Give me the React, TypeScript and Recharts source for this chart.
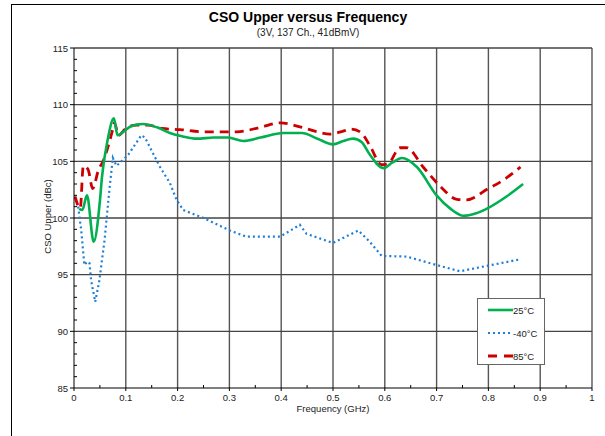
import React from 'react';
import { LineChart, Line, XAxis, YAxis, ReferenceLine } from 'recharts';

const FREQ_25 = [0.01, 0.016, 0.025, 0.038, 0.05, 0.054, 0.065, 0.077, 0.084, 0.095, 0.11, 0.133, 0.16, 0.185, 0.21, 0.237, 0.27, 0.297, 0.327, 0.36, 0.404, 0.44, 0.47, 0.5, 0.52, 0.539, 0.555, 0.571, 0.597, 0.615, 0.633, 0.662, 0.7, 0.726, 0.752, 0.775, 0.8, 0.835, 0.867];
const CSO_25 = [100.8, 100.7, 102.0, 97.9, 101.5, 103.6, 106.9, 108.8, 107.3, 107.6, 108.1, 108.3, 108.0, 107.5, 107.2, 107.0, 107.1, 107.1, 106.8, 107.1, 107.5, 107.5, 107.0, 106.5, 106.8, 107.0, 106.7, 105.6, 104.4, 104.9, 105.3, 104.5, 102.0, 100.85, 100.2, 100.4, 100.9, 101.9, 103.0];

const FREQ_M40 = [0.008, 0.014, 0.02, 0.026, 0.03, 0.033, 0.041, 0.049, 0.059, 0.069, 0.075, 0.082, 0.094, 0.105, 0.13, 0.137, 0.166, 0.185, 0.198, 0.211, 0.25, 0.301, 0.333, 0.398, 0.436, 0.449, 0.5, 0.549, 0.571, 0.594, 0.642, 0.7, 0.745, 0.8, 0.861];
const CSO_M40 = [101.0, 98.9, 95.85, 96.15, 96.0, 94.5, 92.6, 94.5, 98.05, 102.8, 105.3, 104.6, 105.1, 105.6, 107.3, 107.1, 104.5, 103.1, 101.6, 100.7, 100.0, 98.9, 98.35, 98.35, 99.4, 98.6, 97.8, 98.9, 97.9, 96.65, 96.6, 95.85, 95.3, 95.8, 96.35];

const FREQ_85 = [0.002, 0.012, 0.018, 0.027, 0.036, 0.047, 0.057, 0.073, 0.078, 0.086, 0.1, 0.12, 0.143, 0.17, 0.205, 0.25, 0.314, 0.36, 0.398, 0.436, 0.47, 0.494, 0.515, 0.536, 0.555, 0.571, 0.594, 0.607, 0.629, 0.642, 0.674, 0.707, 0.739, 0.758, 0.8, 0.829, 0.862];
const CSO_85 = [101.9, 100.85, 104.6, 104.3, 102.6, 104.2, 105.1, 107.5, 108.4, 107.3, 107.9, 108.2, 108.2, 107.9, 107.8, 107.6, 107.6, 108.0, 108.4, 108.05, 107.6, 107.4, 107.6, 107.85, 107.5, 106.4, 104.7, 104.8, 106.2, 106.2, 104.5, 102.8, 101.65, 101.6, 102.6, 103.35, 104.5];

const X_TICKS = [0, 0.05, 0.1, 0.15, 0.2, 0.25, 0.3, 0.35, 0.4, 0.45, 0.5, 0.55, 0.6, 0.65, 0.7, 0.75, 0.8, 0.85, 0.9, 0.95, 1];
const X_MAJOR = [0, 0.1, 0.2, 0.3, 0.4, 0.5, 0.6, 0.7, 0.8, 0.9, 1];
const Y_TICKS = [85, 86, 87, 88, 89, 90, 91, 92, 93, 94, 95, 96, 97, 98, 99, 100, 101, 102, 103, 104, 105, 106, 107, 108, 109, 110, 111, 112, 113, 114, 115];
const Y_MAJOR = [85, 90, 95, 100, 105, 110, 115];

const SERIES_NAMES = ['25°C', '-40°C', '85°C'];

const zip = (fs: number[], vs: number[]) => fs.map((f, i) => ({ f, v: vs[i] }));
const data25 = zip(FREQ_25, CSO_25);
const dataM40 = zip(FREQ_M40, CSO_M40);
const data85 = zip(FREQ_85, CSO_85);

const FONT = '"Liberation Sans", Arial, sans-serif';
const GREEN = '#00B050';
const BLUE = '#1F7FD6';
const RED = '#CC0000';

const YTick = (props: any) => {
  const { x, y, payload } = props;
  const v = payload.value;
  if (Y_MAJOR.includes(v)) {
    return (
      <g>
        <line x1={x - 4} x2={x} y1={y} y2={y} stroke="#000" strokeWidth={1} />
        <text x={x - 6} y={y} dy={3.5} textAnchor="end" fontSize={9.5} fontFamily={FONT} fill="#222">{v}</text>
      </g>
    );
  }
  return <line x1={x} x2={x + 3} y1={y} y2={y} stroke="#000" strokeWidth={1} />;
};

const XTick = (props: any) => {
  const { x, y, payload } = props;
  const v = payload.value;
  if (X_MAJOR.includes(v)) {
    return (
      <g>
        <line x1={x} x2={x} y1={y} y2={y + 3} stroke="#000" strokeWidth={1} />
        <text x={x} y={y + 13} textAnchor="middle" fontSize={9.5} fontFamily={FONT} fill="#222">{v}</text>
      </g>
    );
  }
  return <line x1={x} x2={x} y1={y - 3} y2={y} stroke="#000" strokeWidth={1} />;
};

export default function App() {
  return (
    <div style={{ position: 'absolute', left: 0, top: 0, width: 605, height: 436, overflow: 'hidden', background: '#fff', fontFamily: FONT }}>
      <div style={{ position: 'absolute', left: 11, top: 4, width: 620, height: 460, borderLeft: '1.5px solid #000', borderTop: '1.5px solid #000' }} />
      <div style={{ position: 'absolute', left: 0, width: 616, top: 9, textAlign: 'center', fontSize: 14, fontWeight: 'bold', color: '#000' }}>CSO Upper versus Frequency</div>
      <div style={{ position: 'absolute', left: 0, width: 616, top: 27, textAlign: 'center', fontSize: 10, color: '#222' }}>(3V, 137 Ch., 41dBmV)</div>
      <LineChart width={605} height={436} margin={{ top: 48, right: 13, bottom: 28, left: 0 }}>
        <XAxis
          type="number"
          dataKey="f"
          domain={[0, 1]}
          ticks={X_TICKS}
          interval={0}
          tickSize={0}
          tickMargin={0}
          tickLine={false}
          tick={<XTick />}
          height={20}
          axisLine={{ stroke: '#000', strokeWidth: 1 }}
          allowDataOverflow
        />
        <YAxis
          type="number"
          domain={[85, 115]}
          ticks={Y_TICKS}
          interval={0}
          tickSize={0}
          tickMargin={0}
          tickLine={false}
          tick={<YTick />}
          width={74}
          axisLine={{ stroke: '#000', strokeWidth: 1 }}
          allowDataOverflow
        />
        {X_MAJOR.filter((v) => v !== 0).map((v) => (
          <ReferenceLine key={'x' + v} x={v} stroke="#555" strokeWidth={1.4} />
        ))}
        {Y_MAJOR.filter((v) => v !== 85).map((v) => (
          <ReferenceLine key={'y' + v} y={v} stroke="#444" strokeWidth={1.4} />
        ))}
        <Line data={dataM40} dataKey="v" name={SERIES_NAMES[1]} type="linear" stroke={BLUE} strokeWidth={2.2} strokeDasharray="2 3" dot={false} isAnimationActive={false} />
        <Line data={data85} dataKey="v" name={SERIES_NAMES[2]} type="monotone" stroke={RED} strokeWidth={2.8} strokeDasharray="9 6" dot={false} isAnimationActive={false} />
        <Line data={data25} dataKey="v" name={SERIES_NAMES[0]} type="monotone" stroke={GREEN} strokeWidth={2.6} dot={false} isAnimationActive={false} />
      </LineChart>
      <div style={{ position: 'absolute', left: 283, top: 403, width: 100, textAlign: 'center', fontSize: 9.5, color: '#222' }}>Frequency (GHz)</div>
      <div style={{ position: 'absolute', left: -3, top: 211, width: 100, textAlign: 'center', fontSize: 9.5, color: '#222', transform: 'rotate(-90deg)' }}>CSO Upper (dBc)</div>
      <div style={{ position: 'absolute', left: 477, top: 298, width: 68, height: 67, background: '#fff', border: '1px solid #666', boxSizing: 'border-box' }}>
        <svg width={68} height={67} style={{ position: 'absolute', left: 0, top: 0 }}>
          <line x1={10} x2={35} y1={11} y2={11} stroke={GREEN} strokeWidth={2.6} />
          <line x1={10} x2={35} y1={34} y2={34} stroke={BLUE} strokeWidth={2.2} strokeDasharray="2 3" />
          <line x1={10} x2={35} y1={57} y2={57} stroke={RED} strokeWidth={2.8} strokeDasharray="9 7" />
          <text x={35} y={14.5} fontSize={9.5} fontFamily={FONT} fill="#222">{SERIES_NAMES[0]}</text>
          <text x={35} y={37.5} fontSize={9.5} fontFamily={FONT} fill="#222">{SERIES_NAMES[1]}</text>
          <text x={35} y={60.5} fontSize={9.5} fontFamily={FONT} fill="#222">{SERIES_NAMES[2]}</text>
        </svg>
      </div>
    </div>
  );
}
